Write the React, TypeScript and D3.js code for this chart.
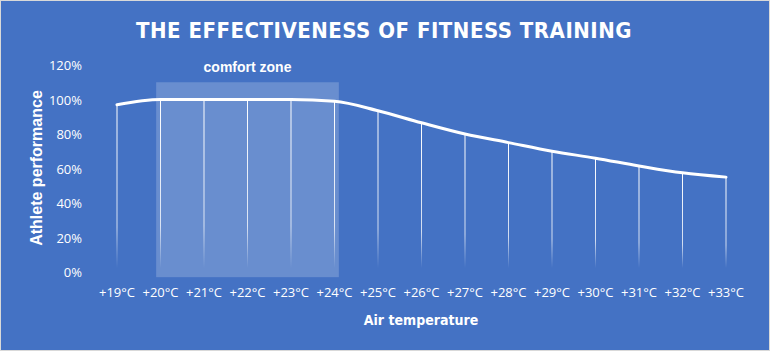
import React from 'react';
import * as d3 from 'd3';

const temps = [19, 20, 21, 22, 23, 24, 25, 26, 27, 28, 29, 30, 31, 32, 33];
const performance = [97, 100, 100, 100, 100, 99, 93.5, 86.5, 80, 75, 70, 66, 61.5, 57.5, 55];
const yTicks = [0, 20, 40, 60, 80, 100, 120];
const comfortZone = { from: 19.9, to: 24.1, top: 110, bottom: -3 };

const W = 770;
const H = 351;

const App = () => {
  const x = d3.scaleLinear().domain([19, 33]).range([117, 726]);
  const y = d3.scaleLinear().domain([0, 120]).range([272, 65]);

  const line = d3.line<number>()
    .x((_, i) => x(temps[i]))
    .y(d => y(d))
    .curve(d3.curveMonotoneX);

  const font = '"Segoe UI", "Open Sans", sans-serif';

  return (
    <svg width={W} height={H} style={{ display: 'block', position: 'absolute', left: 0, top: 0 }}>
      <defs>
        <linearGradient id="drop" x1="0" y1="0" x2="0" y2="1">
          <stop offset="0%" stopColor="#fff" stopOpacity={1} />
          <stop offset="75%" stopColor="#fff" stopOpacity={0.75} />
          <stop offset="100%" stopColor="#fff" stopOpacity={0} />
        </linearGradient>
      </defs>
      <rect x={0.5} y={0.5} width={W - 1} height={H - 1} fill="#4472c4" stroke="#d9d9d9" />

      <text x={384} y={38} textAnchor="middle" fill="#fff" fontFamily='"DejaVu Sans", sans-serif'
        fontStretch="condensed" fontWeight={600} fontSize={22} letterSpacing={0.5}>
        THE EFFECTIVENESS OF FITNESS TRAINING
      </text>

      {/* comfort zone */}
      <rect x={x(comfortZone.from)} y={y(comfortZone.top)}
        width={x(comfortZone.to) - x(comfortZone.from)}
        height={y(comfortZone.bottom) - y(comfortZone.top)}
        fill="#fff" fillOpacity={0.2} />
      <text x={(x(comfortZone.from) + x(comfortZone.to)) / 2} y={72} textAnchor="middle" fill="#fff"
        fontFamily='"Liberation Sans", Arial, sans-serif' fontWeight="bold" fontSize={14}>
        comfort zone
      </text>

      {/* y axis labels */}
      {yTicks.map(t => (
        <text key={t} x={82} y={y(t) + 5} textAnchor="end" fill="#fff" fontFamily={font} fontSize={13}>
          {t}%
        </text>
      ))}

      {/* drop lines */}
      {performance.map((v, i) => (
        <rect key={i} x={x(temps[i]) - 0.5} y={y(v)} width={1} height={y(0) - 4 - y(v)} fill="url(#drop)" />
      ))}

      <path d={line(performance) || ''} fill="none" stroke="#fff" strokeWidth={3} strokeLinecap="round" />

      {/* x labels */}
      {temps.map(t => (
        <text key={t} x={x(t)} y={297} textAnchor="middle" fill="#fff" fontFamily={font} fontSize={13}>
          +{t}°C
        </text>
      ))}

      <text x={421} y={325} textAnchor="middle" fill="#fff" fontFamily='"DejaVu Sans", sans-serif'
        fontStretch="condensed" fontWeight="bold" fontSize={14}>
        Air temperature
      </text>
      <text transform={`translate(42, 168) rotate(-90)`} textAnchor="middle" fill="#fff"
        fontFamily='"Liberation Sans", Arial, sans-serif' fontWeight="bold" fontSize={16}>
        Athlete performance
      </text>
    </svg>
  );
};

export default App;
